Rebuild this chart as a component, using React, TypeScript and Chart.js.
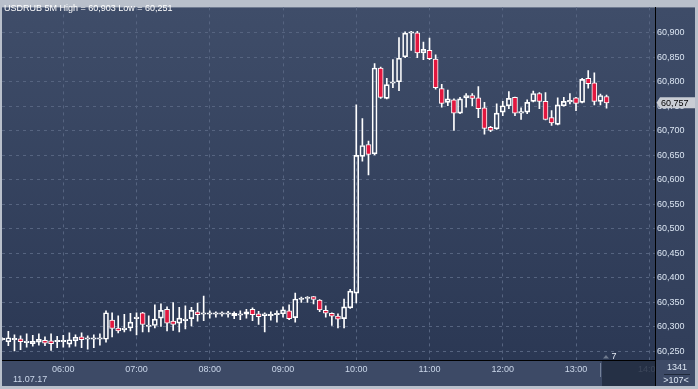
import React, { useEffect, useRef } from "react";
import { Chart, registerables } from "chart.js";

Chart.register(...registerables);

const SYMBOL = "USDRUB";
const TIMEFRAME = "5M";
const DATE_LABEL = "11.07.17";
const FIRST_BAR_TIME = "05:10";
const BAR_MINUTES = 5;
const BARS_ON_CHART = "1341";
const SHIFT_LABEL = ">107<";
const SCROLL_LABEL = "7";

const OPEN = [
  60.274, 60.270, 60.274, 60.276, 60.268, 60.266, 60.269, 60.273, 60.272, 60.270,
  60.270, 60.265, 60.272, 60.280, 60.275, 60.275, 60.275, 60.275, 60.314, 60.298,
  60.294, 60.298, 60.317, 60.329, 60.301, 60.303, 60.318, 60.336, 60.312, 60.308,
  60.313, 60.317, 60.331, 60.326, 60.326, 60.326, 60.326, 60.326, 60.323, 60.324,
  60.326, 60.336, 60.327, 60.323, 60.323, 60.325, 60.327, 60.333, 60.319, 60.356,
  60.358, 60.362, 60.355, 60.334, 60.328, 60.322, 60.317, 60.339, 60.369, 60.648,
  60.672, 60.653, 60.828, 60.766, 60.797, 60.800, 60.851, 60.899, 60.900, 60.859,
  60.864, 60.846, 60.786, 60.758, 60.763, 60.736, 60.767, 60.772, 60.767, 60.747,
  60.707, 60.704, 60.738, 60.751, 60.768, 60.736, 60.738, 60.760, 60.776, 60.760,
  60.727, 60.713, 60.751, 60.759, 60.767, 60.758, 60.807, 60.798, 60.760, 60.770,
];
const HIGH = [
  60.278, 60.291, 60.284, 60.282, 60.286, 60.283, 60.286, 60.280, 60.286, 60.281,
  60.283, 60.288, 60.284, 60.288, 60.282, 60.284, 60.286, 60.333, 60.329, 60.323,
  60.326, 60.328, 60.329, 60.330, 60.323, 60.345, 60.347, 60.341, 60.350, 60.340,
  60.343, 60.340, 60.349, 60.363, 60.333, 60.331, 60.331, 60.332, 60.331, 60.333,
  60.336, 60.339, 60.332, 60.329, 60.331, 60.333, 60.341, 60.345, 60.369, 60.361,
  60.362, 60.362, 60.356, 60.343, 60.329, 60.327, 60.357, 60.377, 60.753, 60.725,
  60.679, 60.837, 60.830, 60.807, 60.845, 60.890, 60.902, 60.903, 60.903, 60.881,
  60.889, 60.855, 60.795, 60.783, 60.765, 60.768, 60.776, 60.776, 60.790, 60.758,
  60.709, 60.755, 60.760, 60.780, 60.769, 60.747, 60.763, 60.781, 60.778, 60.778,
  60.741, 60.767, 60.768, 60.776, 60.768, 60.807, 60.823, 60.818, 60.775, 60.773,
];
const LOW = [
  60.273, 60.262, 60.251, 60.254, 60.259, 60.261, 60.263, 60.262, 60.252, 60.258,
  60.259, 60.259, 60.261, 60.258, 60.255, 60.258, 60.263, 60.269, 60.280, 60.288,
  60.290, 60.292, 60.284, 60.290, 60.290, 60.298, 60.301, 60.292, 60.293, 60.290,
  60.296, 60.302, 60.312, 60.313, 60.318, 60.320, 60.322, 60.320, 60.317, 60.315,
  60.318, 60.313, 60.305, 60.290, 60.314, 60.310, 60.320, 60.315, 60.310, 60.350,
  60.350, 60.347, 60.331, 60.320, 60.303, 60.298, 60.298, 60.338, 60.349, 60.638,
  60.610, 60.651, 60.766, 60.765, 60.788, 60.782, 60.849, 60.864, 60.849, 60.845,
  60.845, 60.785, 60.748, 60.751, 60.701, 60.735, 60.748, 60.751, 60.727, 60.693,
  60.698, 60.703, 60.731, 60.745, 60.731, 60.723, 60.735, 60.759, 60.745, 60.722,
  60.711, 60.712, 60.750, 60.755, 60.741, 60.757, 60.787, 60.753, 60.753, 60.746,
];
const CLOSE = [
  60.277, 60.278, 60.277, 60.270, 60.271, 60.271, 60.275, 60.267, 60.266, 60.273,
  60.273, 60.274, 60.279, 60.274, 60.278, 60.278, 60.278, 60.329, 60.297, 60.292,
  60.298, 60.310, 60.320, 60.305, 60.304, 60.316, 60.334, 60.308, 60.305, 60.318,
  60.316, 60.334, 60.325, 60.329, 60.329, 60.329, 60.329, 60.329, 60.328, 60.327,
  60.331, 60.325, 60.321, 60.327, 60.326, 60.328, 60.335, 60.317, 60.357, 60.359,
  60.361, 60.356, 60.335, 60.328, 60.322, 60.316, 60.341, 60.373, 60.650, 60.670,
  60.652, 60.828, 60.768, 60.794, 60.800, 60.848, 60.899, 60.902, 60.859, 60.866,
  60.847, 60.788, 60.756, 60.765, 60.736, 60.765, 60.772, 60.766, 60.745, 60.705,
  60.701, 60.736, 60.751, 60.766, 60.736, 60.739, 60.758, 60.776, 60.760, 60.723,
  60.716, 60.753, 60.760, 60.762, 60.756, 60.805, 60.796, 60.760, 60.772, 60.757,
];

const HOUR_TICKS = ["06:00", "07:00", "08:00", "09:00", "10:00", "11:00", "12:00", "13:00", "14:00"];
const PRICE_TICKS = [
  60.25, 60.3, 60.35, 60.4, 60.45, 60.5, 60.55, 60.6, 60.65, 60.7, 60.75, 60.8, 60.85, 60.9,
];

const X_MIN = 309.8;
const X_MAX = 844.7;
const Y_MIN = 60.2327;
const Y_MAX = 60.9516;

const FONT = "'Liberation Sans', Arial, sans-serif";
const RED = "#e2173f";
const GRID = "#566480";
const LABEL = "#dbe5f2";
const XLABEL = "#cbd7ea";

function toMinutes(t: string) {
  const [h, m] = t.split(":").map(Number);
  return h * 60 + m;
}
function fmtTime(v: number) {
  const h = Math.floor(v / 60);
  const m = Math.round(v % 60);
  return String(h).padStart(2, "0") + ":" + String(m).padStart(2, "0");
}
function fmtPrice(v: number) {
  return v.toFixed(3).replace(".", ",");
}

const chromePlugin = {
  id: "chrome",
  beforeDraw(chart: any) {
    const { ctx, chartArea: a, width: W, height: H } = chart;
    ctx.save();
    ctx.fillStyle = "#b9c0cb";
    ctx.fillRect(0, 0, W, H);
    const g = ctx.createLinearGradient(0, a.top, 0, a.bottom);
    g.addColorStop(0, "#3f4d69");
    g.addColorStop(1, "#2b3854");
    ctx.fillStyle = g;
    ctx.fillRect(a.left, a.top, a.right - a.left, a.bottom - a.top);
    const g2 = ctx.createLinearGradient(0, a.top, 0, a.bottom);
    g2.addColorStop(0, "#3e4c68");
    g2.addColorStop(1, "#313e5a");
    ctx.fillStyle = g2;
    ctx.fillRect(a.right, a.top, W - 3 - a.right, a.bottom - a.top);
    ctx.fillStyle = "#3d4a66";
    ctx.fillRect(a.left, a.bottom, W - 3 - a.left, H - 3 - a.bottom);
    ctx.restore();
  },
  afterDraw(chart: any) {
    const { ctx, chartArea: a, width: W, height: H } = chart;
    const yScale = chart.scales.y;
    ctx.save();
    ctx.font = `9px ${FONT}`;
    // title
    const hi = Math.max(...HIGH);
    const lo = Math.min(...LOW);
    ctx.fillStyle = "#ffffff";
    ctx.textAlign = "left";
    ctx.textBaseline = "alphabetic";
    ctx.fillText(`${SYMBOL} ${TIMEFRAME} High = ${fmtPrice(hi)} Low = ${fmtPrice(lo)}`, 4, 11);
    // date label
    ctx.fillStyle = XLABEL;
    ctx.fillText(DATE_LABEL, 13, 382);
    // dark scroll box
    ctx.fillStyle = "rgba(33,43,64,0.85)";
    ctx.fillRect(602, a.bottom + 1, a.right - 602, H - 3 - a.bottom - 1);
    ctx.strokeStyle = "#75829a";
    ctx.lineWidth = 1;
    ctx.beginPath();
    ctx.moveTo(600.5, a.bottom + 3);
    ctx.lineTo(600.5, a.bottom + 17);
    ctx.stroke();
    // small triangle + scroll number
    ctx.fillStyle = "#6f7a8e";
    ctx.beginPath();
    ctx.moveTo(603, a.bottom - 1.5);
    ctx.lineTo(606, a.bottom - 5);
    ctx.lineTo(609, a.bottom - 1.5);
    ctx.closePath();
    ctx.fill();
    ctx.fillStyle = "#e8eef6";
    ctx.fillText(SCROLL_LABEL, 611.5, a.bottom - 1.5);
    // corner box
    ctx.fillStyle = "#3d4a66";
    ctx.fillRect(a.right + 1, a.bottom + 1, W - 3 - a.right - 1, H - 3 - a.bottom - 1);
    ctx.fillStyle = LABEL;
    ctx.textAlign = "center";
    ctx.textBaseline = "middle";
    ctx.fillText(BARS_ON_CHART, 677, a.bottom + 8);
    ctx.fillText(SHIFT_LABEL, 676, a.bottom + 20.5);
    ctx.strokeStyle = "#1f293a";
    ctx.beginPath();
    ctx.moveTo(664, a.bottom + 14.5);
    ctx.lineTo(690, a.bottom + 14.5);
    ctx.stroke();
    // black separators
    ctx.strokeStyle = "#000";
    ctx.beginPath();
    ctx.moveTo(a.right + 0.5, a.top);
    ctx.lineTo(a.right + 0.5, H - 3);
    ctx.moveTo(a.left, a.bottom + 0.5);
    ctx.lineTo(a.right, a.bottom + 0.5);
    ctx.stroke();
    // price tag
    const last = CLOSE[CLOSE.length - 1];
    const py = yScale.getPixelForValue(last);
    ctx.fillStyle = "#c9cdd4";
    ctx.beginPath();
    ctx.moveTo(a.right + 1.5, py);
    ctx.lineTo(a.right + 5, py - 5.5);
    ctx.lineTo(W - 3, py - 5.5);
    ctx.lineTo(W - 3, py + 5.5);
    ctx.lineTo(a.right + 5, py + 5.5);
    ctx.closePath();
    ctx.fill();
    ctx.fillStyle = "#000";
    ctx.textAlign = "left";
    ctx.textBaseline = "middle";
    ctx.fillText(fmtPrice(last), a.right + 6, py + 0.5);
    ctx.restore();
  },
};

export default function App() {
  const ref = useRef<HTMLCanvasElement | null>(null);
  useEffect(() => {
    if (!ref.current) return;
    const start = toMinutes(FIRST_BAR_TIME);
    const xs = CLOSE.map((_, i) => start + i * BAR_MINUTES);
    const lowerWick = xs.map((x, i) => ({ x, y: [LOW[i], Math.min(OPEN[i], CLOSE[i])] }));
    const upperWick = xs.map((x, i) => ({ x, y: [Math.max(OPEN[i], CLOSE[i]), HIGH[i]] }));
    const bodies = xs.map((x, i) => ({ x, y: [OPEN[i], CLOSE[i]] }));
    const chart = new Chart(ref.current, {
      type: "bar",
      data: {
        datasets: [
          {
            label: "body",
            data: bodies as any,
            backgroundColor: CLOSE.map((c, i) => (c < OPEN[i] ? RED : "rgba(0,0,0,0)")),
            borderColor: "#ffffff",
            borderWidth: 1,
            borderSkipped: false,
            barThickness: 5,
            grouped: false,
            order: 1,
          } as any,
          {
            label: "upper",
            data: upperWick as any,
            backgroundColor: "#ffffff",
            borderWidth: 0,
            barThickness: 1,
            grouped: false,
            order: 2,
          } as any,
          {
            label: "lower",
            data: lowerWick as any,
            backgroundColor: "#ffffff",
            borderWidth: 0,
            barThickness: 1,
            grouped: false,
            order: 3,
          } as any,
        ],
      },
      options: {
        responsive: false,
        devicePixelRatio: 1,
        animation: false,
        events: [],
        layout: { padding: { left: 2, top: 2, right: 3, bottom: 3 } },
        plugins: { legend: { display: false }, tooltip: { enabled: false } },
        scales: {
          x: {
            type: "linear",
            min: X_MIN,
            max: X_MAX,
            offset: false,
            afterFit: (s: any) => {
              s.height = 26;
            },
            afterBuildTicks: (s: any) => {
              s.ticks = HOUR_TICKS.map((t) => ({ value: toMinutes(t) }));
            },
            ticks: {
              autoSkip: false,
              maxRotation: 0,
              padding: 4,
              color: XLABEL,
              font: { family: FONT, size: 9 },
              callback: (v: any) => fmtTime(Number(v)),
            },
            grid: { color: GRID, lineWidth: 1, drawTicks: false, offset: false },
            border: { display: true, color: "#000", width: 1, dash: [3, 4] },
          } as any,
          y: {
            type: "linear",
            position: "right",
            min: Y_MIN,
            max: Y_MAX,
            beginAtZero: false,
            afterFit: (s: any) => {
              s.width = 40;
            },
            afterBuildTicks: (s: any) => {
              s.ticks = PRICE_TICKS.map((v) => ({ value: v }));
            },
            ticks: {
              padding: 2,
              color: LABEL,
              font: { family: FONT, size: 9 },
              callback: (v: any) => fmtPrice(Number(v)),
            },
            grid: { color: GRID, lineWidth: 1, drawTicks: false },
            border: { display: true, color: "#000", width: 1, dash: [3, 4] },
          } as any,
        },
      },
      plugins: [chromePlugin],
    });
    return () => chart.destroy();
  }, []);
  return (
    <div style={{ position: "absolute", left: 0, top: 0, width: 698, height: 389 }}>
      <canvas ref={ref} width={698} height={389} style={{ display: "block", width: 698, height: 389 }} />
    </div>
  );
}
